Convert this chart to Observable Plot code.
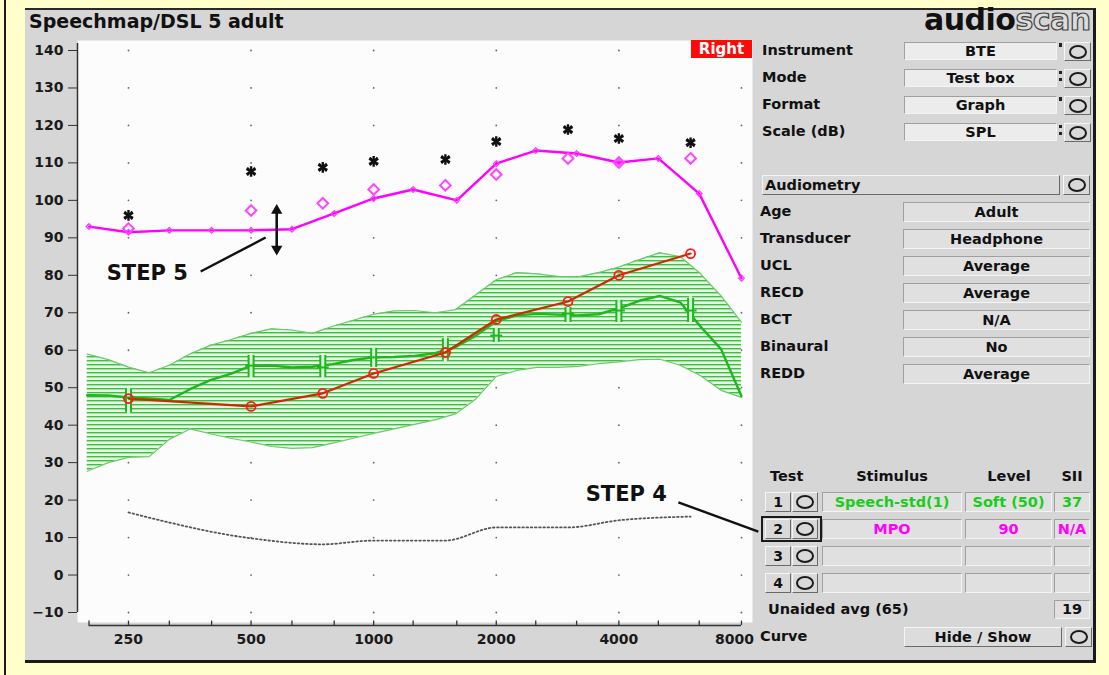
<!DOCTYPE html>
<html><head><meta charset="utf-8">
<script src="https://cdn.jsdelivr.net/npm/d3@7"></script>
<script src="https://cdn.jsdelivr.net/npm/@observablehq/plot@0.6"></script>
<style>
html,body{margin:0;padding:0;}
body{background:#ffffcc;width:1109px;height:675px;overflow:hidden;font-family:"DejaVu Sans",sans-serif;}
#page{position:relative;width:1109px;height:675px;}
.abs{position:absolute;}
.lbl{position:absolute;font-weight:bold;font-size:14.5px;color:#111;white-space:nowrap;line-height:18px;}
.box{position:absolute;box-sizing:border-box;background:#e0e0e0;border:1px solid;border-color:#a0a0a0 #f4f4f4 #f4f4f4 #a0a0a0;text-align:center;font-weight:bold;font-size:14.5px;color:#111;white-space:nowrap;}
.light{background:#ececec;}
.btn{position:absolute;box-sizing:border-box;background:#d9d9d9;border:1px solid;border-color:#f6f6f6 #6a6a6a #6a6a6a #f6f6f6;text-align:center;font-weight:bold;font-size:14px;color:#111;}
.circ{position:absolute;left:50%;top:50%;width:14px;height:10px;margin-left:-9px;margin-top:-7px;border:2px solid #1a1a1a;border-radius:50%;}
</style></head>
<body><div id="page"></div>
<script>
// ---------- data ----------
const tickFreq = [200,250,315,400,500,630,800,1000,1250,1600,2000,2500,3150,4000,5000,6300,8000];
const octaveLabels = [250,500,1000,2000,4000];
const lastLabel = [8000];
const gridFreq = [250,500,1000,2000,4000,8000];
const yTicks = [-10,0,10,20,30,40,50,60,70,80,90,100,110,120,130,140];

// speech band (1/6 octave) : upper / lower edges and measured aided LTASS
const bandFreq  = [198,223,250,281,315,354,397,445,500,561,630,707,794,891,1000,1122,1260,1414,1587,1782,2000,2245,2520,2828,3175,3564,4000,4490,5040,5657,6350,7127,8000];
const bandUpper = [59.0,57.5,55.5,54.0,56.0,59.0,61.3,62.8,64.5,65.7,65.4,64.5,66.4,68.0,69.6,70.5,70.6,70.0,70.8,74.8,78.8,80.7,80.4,79.7,79.6,80.7,82.2,84.2,86.0,85.0,80.4,74.5,67.5];
const bandLower = [27.7,30.0,31.4,31.6,36.2,39.0,37.7,36.5,35.5,34.3,33.8,34.0,35.2,36.5,37.8,39.0,40.2,41.4,43.0,47.0,53.0,54.6,55.4,55.4,55.7,56.4,56.9,57.5,57.6,56.0,53.2,49.3,47.4];
const speechLTASS = [48.0,47.9,47.4,47.1,46.7,49.6,52.0,53.7,55.8,55.9,55.4,55.6,56.3,57.4,58.1,58.2,58.5,59.2,60.8,63.9,67.7,69.3,69.7,69.5,69.3,69.6,71.2,73.2,74.5,72.8,66.3,60.3,47.8];

// audiometric frequencies
const audFreq = [250,500,750,1000,1500,2000,3000,4000,6000];
const uclSPL = [96,107.7,108.8,110.4,110.9,115.7,118.9,116.5,115.4];
const mpoTarget = [92.5,97.3,99.2,102.9,104,106.9,111.2,110.1,111.2];
const speechTarget = [47.1,45,48.5,53.8,59.4,68.2,73,80,85.8];
const thresholdSPL = [16.7,9.8,8.2,9.2,9.2,12.7,12.7,14.6,15.6];
const barLow  = [43.4,52.7,52.7,55.4,57.3,62.1,67.4,67.4,67.4];
const barMid  = [47.4,55.9,55.4,58.1,59.4,63.9,69.8,70.6,70.6];
const barHigh = [49.5,58.6,58.6,60.5,63.1,65.8,71.4,73.3,73.8];

// measured MPO (1/3 octave)
const mpoFreq = [200,250,315,400,500,630,800,1000,1250,1600,2000,2500,3150,4000,5000,6300,8000];
const mpoMeasured = [93,91.5,92,92,92,92.3,96.5,100.5,102.9,100,109.8,113.3,112.5,110.1,111.2,101.8,79.2];

// annotations (frequency, dB)
const step5Label = [{f:278, db:80.5, text:"STEP 5"}];
const step5Leader = [{f1:376, db1:81.0, f2:543, db2:90.1}];
const step5Arrow = {f:578, mid:92.3, top:98.2, bottom:86.1};
const step4Label = [{f:4170, db:21.5, text:"STEP 4"}];
const step4Leader = [{f1:5600, db1:19.4, f2:8800, db2:11.6}];

// right panel text
const setupLabels = ["Instrument","Mode","Format","Scale (dB)"];
const setupValues = ["BTE","Test box","Graph","SPL"];
const setupMarks = [1,2,1,2];
const audioLabels = ["Age","Transducer","UCL","RECD","BCT","Binaural","REDD"];
const audioValues = ["Adult","Headphone","Average","Average","N/A","No","Average"];
const testHeaders = ["Test","Stimulus","Level","SII"];
const testStimulus = ["Speech-std(1)","MPO","",""];
const testLevel = ["Soft (50)","90","",""];
const testSII = ["37","N/A","",""];
const testColors = ["#1ccc1c","#ff00ff","#111","#111"];
const unaidedLabel = "Unaided avg (65)";
const unaidedSII = "19";
const earLabel = "Right";

// ---------- layout ----------
const page = document.getElementById("page");
function el(cls, css, text, parent) {
  const e = document.createElement("div");
  e.className = cls; e.style.cssText = css;
  if (text != null) e.textContent = text;
  (parent || page).appendChild(e); return e;
}
el("abs","left:4px;top:0;width:2px;height:675px;background:#1a1a1a;");
el("abs","left:25px;top:8px;width:1068px;height:650px;background:#d6d6d6;border-top:2px solid #2a2a2a;border-right:3px solid #1a1a1a;border-bottom:3px solid #1a1a1a;");
el("lbl","left:29px;top:9px;font-size:19px;line-height:24px;","Speechmap/DSL 5 adult");
const logo = el("abs","left:924px;top:5px;font-size:30px;font-weight:bold;line-height:30px;letter-spacing:-0.5px;white-space:nowrap;");
logo.innerHTML = '<span style="color:#111">audio</span><span style="color:#dcdcdc;-webkit-text-stroke:1.2px #444;">scan</span>';

// setup rows
setupLabels.forEach((t,i)=>{
  const top = 42 + 27*i;
  el("lbl",`left:762px;top:${top-1}px;`,t);
  el("box light",`left:904px;top:${top}px;width:153px;height:18px;line-height:16px;`,setupValues[i]);
  if (setupMarks[i]===1) el("abs",`left:1059px;top:${top+1}px;width:3px;height:4px;background:#222;`);
  else { el("abs",`left:1059px;top:${top+2}px;width:3px;height:3px;background:#222;`); el("abs",`left:1059px;top:${top+9}px;width:3px;height:3px;background:#222;`); }
  const b = el("btn",`left:1064px;top:${top}px;width:27px;height:19px;`); el("circ","",null,b);
});
el("box",`left:762px;top:175px;width:298px;height:20px;text-align:left;padding-left:2px;line-height:18px;background:#d9d9d9;border-color:#f4f4f4 #6a6a6a #6a6a6a #f4f4f4;`,"Audiometry");
{ const b = el("btn","left:1063px;top:175px;width:27px;height:20px;"); el("circ","",null,b); }
audioLabels.forEach((t,i)=>{
  const top = 202 + 27*i;
  el("lbl",`left:760px;top:${top}px;`,t);
  el("box",`left:903px;top:${top}px;width:187px;height:20px;line-height:18px;`,audioValues[i]);
});
// test table
const hdrX = [[770,null],[850,84],[985,48],[1058,28]];
testHeaders.forEach((t,i)=>{
  el("lbl",`left:${hdrX[i][0]}px;top:467px;`+(hdrX[i][1]?`width:${hdrX[i][1]}px;text-align:center;`:""),t);
});
const rowTop = [492,519,546,573];
rowTop.forEach((top,i)=>{
  el("btn",`left:765px;top:${top}px;width:26px;height:20px;line-height:18px;`,String(i+1));
  const b = el("btn",`left:792px;top:${top}px;width:26px;height:20px;`); el("circ","",null,b);
  const c = `color:${testColors[i]};height:20px;line-height:18px;top:${top}px;`;
  el("box",`left:822px;width:140px;${c}`,testStimulus[i]);
  el("box",`left:965px;width:87px;${c}`,testLevel[i]);
  el("box",`left:1054px;width:36px;${c}`,testSII[i]);
});
el("abs","left:761px;top:516px;width:57px;height:22px;border:2px solid #1a1a1a;");
el("lbl","left:768px;top:600px;",unaidedLabel);
el("box","left:1054px;top:600px;width:36px;height:19px;line-height:17px;",unaidedSII);
el("lbl","left:760px;top:627px;","Curve");
el("box","left:904px;top:627px;width:158px;height:20px;line-height:18px;background:#dcdcdc;border-color:#f4f4f4 #6a6a6a #6a6a6a #f4f4f4;","Hide / Show");
{ const b = el("btn","left:1065px;top:627px;width:27px;height:20px;"); el("circ","",null,b); }

// ---------- chart ----------
const band = bandFreq.map((f,i)=>({f, hi:bandUpper[i], lo:bandLower[i], ltass:speechLTASS[i]}));
const aud = audFreq.map((f,i)=>({f, ucl:uclSPL[i], mpoT:mpoTarget[i], spT:speechTarget[i], thr:thresholdSPL[i], lo:barLow[i], mid:barMid[i], hi:barHigh[i]}));
const mpo = mpoFreq.map((f,i)=>({f, db:mpoMeasured[i]}));
const grid = gridFreq.flatMap(f=>yTicks.map(db=>({f,db})));
const arrows = [{f:step5Arrow.f, a:step5Arrow.mid, b:step5Arrow.top},{f:step5Arrow.f, a:step5Arrow.mid, b:step5Arrow.bottom}];
const heads = [{f:step5Arrow.f, db:step5Arrow.top-0.9, rot:0},{f:step5Arrow.f, db:step5Arrow.bottom+0.9, rot:180}];
const hbar = {draw(ctx, size){ const r = Math.sqrt(size/Math.PI); ctx.moveTo(-r,0); ctx.lineTo(r,0); }};
const axisLevel = -13.45, tickTop = -12.3;

const green = "#1eb81e";
const labelStyle = {fontSize: 14, fontWeight: "bold", fill: "#1a1a1a", frameAnchor: "bottom", dy: 21};
const chart = Plot.plot({
  width: 726, height: 622,
  marginLeft: 50, marginRight: 1, marginTop: 4, marginBottom: 36,
  x: {type: "log", domain: [187.4, 8515], axis: null},
  y: {domain: [-12.67, 142.67], axis: null},
  style: {background: "transparent", overflow: "visible", fontFamily: "DejaVu Sans", fontWeight: "bold", fontSize: "14px", color: "#1a1a1a"},
  marks: [
    Plot.frame({fill: "#fcfcfc", stroke: "none"}),
    Plot.dot(grid, {x: "f", y: "db", r: 0.9, fill: "#666", stroke: "none"}),
    Plot.areaY(band, {x: "f", y1: "lo", y2: "hi", fill: "url(#hatch)"}),
    Plot.line(band, {x: "f", y: "hi", stroke: "#66cc66", strokeWidth: 1.2}),
    Plot.line(band, {x: "f", y: "lo", stroke: "#66cc66", strokeWidth: 1.2}),
    Plot.line(aud, {x: "f", y: "thr", stroke: "#555", strokeWidth: 1.8, strokeDasharray: "1.6 2.6", curve: "monotone-x"}),
    Plot.line(band, {x: "f", y: "ltass", stroke: green, strokeWidth: 2.4}),
    Plot.ruleX(aud, {x: "f", y1: "lo", y2: "hi", stroke: green, strokeWidth: 7}),
    Plot.ruleX(aud, {x: "f", y1: "lo", y2: "hi", stroke: "#d6f4d6", strokeWidth: 3, insetTop: 2, insetBottom: 2}),
    Plot.dot(aud, {x: "f", y: "mid", symbol: hbar, r: 6, stroke: green, strokeWidth: 2, fill: "none"}),
    Plot.line(aud, {x: "f", y: "spT", stroke: "#cc2a00", strokeWidth: 2.2}),
    Plot.dot(aud, {x: "f", y: "spT", r: 4.5, stroke: "#ff1a1a", strokeWidth: 1.8, fill: "none"}),
    Plot.line(mpo, {x: "f", y: "db", stroke: "#ff00ff", strokeWidth: 2.4}),
    Plot.dot(mpo, {x: "f", y: "db", symbol: "diamond2", r: 2.6, stroke: "#ff33ff", strokeWidth: 1.2, fill: "none"}),
    Plot.dot(aud, {x: "f", y: "mpoT", symbol: "diamond2", r: 4.8, stroke: "#ff44ff", strokeWidth: 2, fill: "none"}),
    Plot.dot(aud, {x: "f", y: "ucl", symbol: "asterisk", r: 5, stroke: "#111", strokeWidth: 2.4}),
    Plot.dot(aud, {x: "f", y: "ucl", symbol: "times", r: 3.6, stroke: "#111", strokeWidth: 2}),
    // annotations
    Plot.link(arrows, {x1: "f", x2: "f", y1: "a", y2: "b", stroke: "#111", strokeWidth: 2.6}),
    Plot.dot(heads, {x: "f", y: "db", symbol: "triangle", r: 4.2, rotate: "rot", fill: "#111", stroke: "none"}),
    Plot.link(step5Leader, {x1: "f1", y1: "db1", x2: "f2", y2: "db2", stroke: "#111", strokeWidth: 2.4}),
    Plot.text(step5Label, {x: "f", y: "db", text: "text", fontSize: 21, fontWeight: "bold", fill: "#111", letterSpacing: "1.5px"}),
    Plot.link(step4Leader, {x1: "f1", y1: "db1", x2: "f2", y2: "db2", stroke: "#111", strokeWidth: 2.4}),
    Plot.text(step4Label, {x: "f", y: "db", text: "text", fontSize: 21, fontWeight: "bold", fill: "#111", letterSpacing: "1.5px"}),
    // axes
    Plot.ruleX([187.4], {y1: -10, y2: 141.9, stroke: "#333", strokeWidth: 1.5}),
    Plot.axisY({ticks: yTicks, tickSize: 9, tickPadding: 5, fontSize: 14, fontWeight: "bold", stroke: "#333", fill: "#1a1a1a"}),
    Plot.ruleY([axisLevel], {x1: 200, x2: 8000, stroke: "#333", strokeWidth: 1.5}),
    Plot.ruleX(tickFreq, {y1: axisLevel, y2: tickTop, stroke: "#333", strokeWidth: 1.3}),
    Plot.text(octaveLabels, {x: d => d, text: d => String(d), ...labelStyle}),
    Plot.text(lastLabel, {x: d => d, text: d => String(d), ...labelStyle, dx: -7})
  ]
});
const ns = "http://www.w3.org/2000/svg";
const defs = document.createElementNS(ns, "defs");
defs.innerHTML = '<pattern id="hatch" patternUnits="userSpaceOnUse" width="8" height="4"><rect width="8" height="4" fill="#e6f4e6"/><rect y="0" width="8" height="1.4" fill="#3fbf3f"/></pattern>';
chart.insertBefore(defs, chart.firstChild);
chart.style.position = "absolute";
chart.style.left = "27px";
chart.style.top = "36px";
page.appendChild(chart);
el("abs","left:691px;top:40px;width:61px;height:18px;background:#ff0a0a;color:#fff;font-weight:bold;font-size:15px;line-height:18px;text-align:center;z-index:5;",earLabel);
</script>
</body></html>
